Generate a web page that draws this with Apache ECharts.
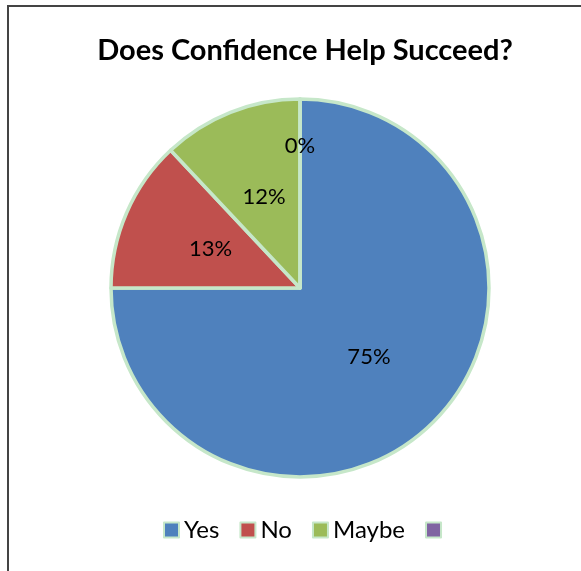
<!DOCTYPE html>
<html><head><meta charset="utf-8">
<script src="https://cdn.jsdelivr.net/npm/echarts@6/dist/echarts.min.js"></script>
<style>
html,body{margin:0;padding:0;background:#fff;overflow:hidden}
#frame{position:absolute;left:7px;top:5px;width:600px;height:600px;border:2px solid #444;box-sizing:border-box}
#c{position:absolute;left:0;top:0;width:581px;height:571px}
</style></head><body>
<div id="frame"></div>
<div id="c"></div>
<script>
const titleText = 'Does Confidence Help Succeed?';
const categories = ['Yes', 'No', 'Maybe', ' '];
const values = [75, 13, 12, 0];
const colors = ['#4f81bd', '#c0504d', '#9bbb59', '#8064a2'];

const chart = echarts.init(document.getElementById('c'));
const data = categories.map((n, i) => {
  const d = { name: n, value: values[i], itemStyle: { color: colors[i] } };
  if (values[i] === 0) d.label = { offset: [0, -45] };
  return d;
});
chart.setOption({
  animation: false,
  title: {
    text: titleText, left: 300, textAlign: 'center', top: 31,
    textStyle: { fontFamily: 'Lato', fontWeight: 'bold', fontSize: 29, color: '#000' }
  },
  legend: {
    bottom: 24, left: 158,
    itemWidth: 15, itemHeight: 15, itemGap: 20,
    icon: 'rect',
    data: categories,
    textStyle: { fontFamily: 'Lato', fontSize: 24, color: '#000', padding: [0, 0, 0, 0] },
    itemStyle: { borderColor: '#c6e7c9', borderWidth: 2 }
  },
  series: [{
    type: 'pie',
    center: [300, 288],
    radius: 189,
    startAngle: 90,
    clockwise: true,
    stillShowZeroSum: true,
    minShowLabelAngle: 0,
    data: data,
    itemStyle: { borderColor: '#c6e7c9', borderWidth: 3.5 },
    label: {
      show: true, position: 'inside', formatter: '{d}%',
      fontFamily: 'Lato', fontSize: 22, color: '#000'
    },
    labelLine: { show: false },
    emphasis: { disabled: true }
  }]
});
</script></body></html>
